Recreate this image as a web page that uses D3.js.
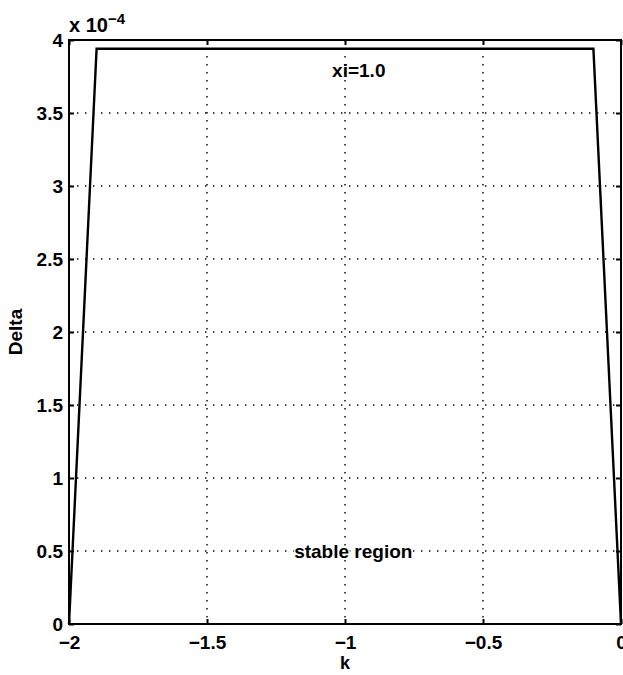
<!DOCTYPE html>
<html>
<head>
<meta charset="utf-8">
<script src="https://cdn.jsdelivr.net/npm/d3@7"></script>
<style>
  html, body { margin: 0; padding: 0; background: #fff; }
  svg { display: block; }
  text { font-family: "Liberation Sans", Arial, Helvetica, sans-serif; fill: #000; }
</style>
</head>
<body>
<script>
// Stability boundary: Delta (×1e-4) against gain k, for xi = 1.0
const kValues = [-2, -1.9, -0.1, 0];
const deltaValues = [0, 3.94, 3.94, 0];
const xTicks = [-2, -1.5, -1, -0.5, 0];
const yTicks = [0, 0.5, 1, 1.5, 2, 2.5, 3, 3.5, 4];

const W = 623, H = 675;
const margin = { top: 40, right: 2, bottom: 51, left: 69 };
const iw = W - margin.left - margin.right;
const ih = H - margin.top - margin.bottom;

const svg = d3.select("body").append("svg").attr("width", W).attr("height", H);
const g = svg.append("g").attr("transform", `translate(${margin.left},${margin.top})`);

const x = d3.scaleLinear().domain([-2, 0]).range([0, iw]);
const y = d3.scaleLinear().domain([0, 4]).range([ih, 0]);

const fmt = d3.format("");
const labelSize = 19;

// dotted grid
g.append("g").selectAll("line").data(xTicks.slice(1, -1)).join("line")
  .attr("x1", d => x(d)).attr("x2", d => x(d)).attr("y1", 0).attr("y2", ih)
  .attr("stroke", "#000").attr("stroke-width", 1.4).attr("stroke-dasharray", "1.4,6.6");
g.append("g").selectAll("line").data(yTicks.slice(1, -1)).join("line")
  .attr("x1", 0).attr("x2", iw).attr("y1", d => y(d)).attr("y2", d => y(d))
  .attr("stroke", "#000").attr("stroke-width", 1.4).attr("stroke-dasharray", "1.4,6.6");

// axes with inward ticks
const tickLen = 5;
const xAxis = g.append("g").attr("transform", `translate(0,${ih})`)
  .call(d3.axisBottom(x).tickValues(xTicks).tickFormat(fmt).tickSizeInner(-tickLen).tickSizeOuter(0).tickPadding(12));
const xTop = g.append("g")
  .call(d3.axisTop(x).tickValues(xTicks).tickFormat("").tickSizeInner(-tickLen).tickSizeOuter(0));
const yAxis = g.append("g")
  .call(d3.axisLeft(y).tickValues(yTicks).tickFormat(fmt).tickSizeInner(-tickLen).tickSizeOuter(0).tickPadding(6));
const yRight = g.append("g").attr("transform", `translate(${iw},0)`)
  .call(d3.axisRight(y).tickValues(yTicks).tickFormat("").tickSizeInner(-tickLen).tickSizeOuter(0));

[xAxis, xTop, yAxis, yRight].forEach(a => {
  a.select(".domain").remove();
  a.selectAll(".tick line").attr("stroke", "#000").attr("stroke-width", 2);
  a.selectAll(".tick text").attr("font-size", labelSize).attr("font-weight", "bold")
    .style("font-family", '"Liberation Sans", Arial, sans-serif');
});

// box
g.append("rect").attr("x", 0).attr("y", 0).attr("width", iw).attr("height", ih)
  .attr("fill", "none").attr("stroke", "#000").attr("stroke-width", 2);

// curve
const line = d3.line().x((d, i) => x(kValues[i])).y(d => y(d));
g.append("path").datum(deltaValues).attr("d", line)
  .attr("fill", "none").attr("stroke", "#000").attr("stroke-width", 2.4)
  .attr("stroke-linejoin", "miter");

// annotations
g.append("text").attr("x", x(-0.95)).attr("y", 37).attr("text-anchor", "middle")
  .attr("font-size", 19).attr("font-weight", "bold").text("xi=1.0");
g.append("text").attr("x", x(-0.97)).attr("y", y(0.5) + 7).attr("text-anchor", "middle")
  .attr("font-size", 19).attr("font-weight", "bold")
  .style("paint-order", "stroke").attr("stroke", "#fff").attr("stroke-width", 3)
  .text("stable region");

// axis titles
svg.append("text").attr("x", margin.left + x(-1)).attr("y", 669).attr("text-anchor", "middle")
  .attr("font-size", 18).attr("font-weight", "bold").text("k");
svg.append("text").attr("transform", `translate(22,${margin.top + y(2)}) rotate(-90)`)
  .attr("text-anchor", "middle").attr("font-size", 19).attr("font-weight", "bold").text("Delta");

// exponent
const ex = svg.append("text").attr("x", margin.left).attr("y", 32)
  .attr("font-size", 20).attr("font-weight", "bold");
ex.append("tspan").text("x 10");
ex.append("tspan").attr("dy", -8).attr("font-size", 15).text("−4");
</script>
</body>
</html>
